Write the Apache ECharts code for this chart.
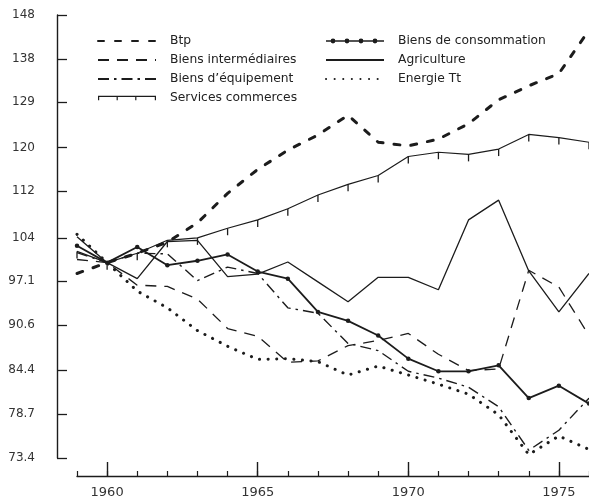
<!DOCTYPE html>
<html>
<head>
<meta charset="utf-8">
<script src="https://cdn.jsdelivr.net/npm/echarts@6/dist/echarts.min.js"></script>
<style>
  html, body { margin: 0; padding: 0; background: #fff; }
  #chart { width: 589px; height: 499px; }
</style>
</head>
<body>
<div id="chart"></div>
<script>
// Indices de prix par branche, base 100 en 1960 (échelle logarithmique)
const years = [1959, 1960, 1961, 1962, 1963, 1964, 1965, 1966, 1967, 1968, 1969, 1970, 1971, 1972, 1973, 1974, 1975, 1976];

const btp          = [98.3, 100, 101.5, 103.3, 106.5, 111.6, 115.9, 119.5, 122.4, 126.3, 121.0, 120.3, 121.6, 124.6, 129.4, 132.3, 134.9, 144.5];
const intermed     = [100.5, 100, 96.5, 96.3, 94.4, 90.1, 89.0, 85.4, 85.6, 87.7, 88.4, 89.4, 86.5, 84.3, 84.5, 98.8, 96.2, 89.1];
const equipement   = [101.6, 100, 101.5, 101.4, 97.2, 99.3, 98.3, 93.1, 92.3, 88.0, 87.0, 84.2, 83.3, 82.1, 79.6, 74.3, 76.7, 80.7];
const services     = [101.8, 100, 101.5, 103.6, 104.0, 105.6, 107.0, 108.9, 111.3, 113.2, 114.8, 118.3, 119.1, 118.7, 119.7, 122.5, 121.9, 121.0];
const consommation = [102.7, 100, 102.5, 99.6, 100.3, 101.3, 98.6, 97.5, 92.5, 91.2, 89.1, 85.9, 84.2, 84.2, 85.0, 80.7, 82.3, 80.0];
const agriculture  = [104.2, 100, 97.5, 103.4, 103.6, 97.8, 98.2, 100.1, 97.0, 94.0, 97.7, 97.7, 95.8, 107.0, 110.4, 98.7, 92.5, 98.3];
const energie      = [104.6, 100, 95.6, 93.1, 89.8, 87.6, 85.8, 85.9, 85.5, 83.7, 84.9, 83.7, 82.5, 81.2, 78.6, 73.8, 76.0, 74.4];

const yTickValues = [73.4, 78.7, 84.4, 90.6, 97.1, 104, 112, 120, 129, 138, 148];
const yTickLabels = ['73.4', '78.7', '84.4', '90.6', '97.1', '104', '112', '120', '129', '138', '148'];
const xLabelYears = [1960, 1965, 1970, 1975];

const INK = '#1c1c1c';
const FONT = 'DejaVu Sans';

const pairs = arr => years.map((y, i) => [y, arr[i]]);

function yLabel(v) {
  let best = 0;
  for (let i = 1; i < yTickValues.length; i++) {
    if (Math.abs(yTickValues[i] - v) < Math.abs(yTickValues[best] - v)) best = i;
  }
  return yTickLabels[best];
}

// Legend samples drawn as paths (58 px wide): a line with dots, a line with hanging ticks
const dot = (cx, r) => `M${cx - r} 3 a${r} ${r} 0 1 1 ${2 * r} 0 a${r} ${r} 0 1 1 ${-2 * r} 0 Z`;
const ICON_CONSO = 'path://M0 2.2 H58 V3.8 H0 Z ' + [7, 21, 35, 49].map(x => dot(x, 2.4)).join(' ');
const ICON_SERVICES = 'path://M0 0 H58 V1.2 H0 Z ' +
  [0, 18.6, 37.2, 56.8].map(x => `M${x} 0 H${x + 1.2} V4.5 H${x} Z`).join(' ');

const base = { type: 'line', xAxisIndex: 0, yAxisIndex: 0, silent: true, animation: false, itemStyle: { color: INK } };

const series = [
  Object.assign({}, base, {
    name: 'Btp', data: pairs(btp), symbol: 'none', z: 5,
    lineStyle: { color: INK, width: 3, type: [6, 11], cap: 'round' }
  }),
  Object.assign({}, base, {
    name: 'Biens intermédiaires', data: pairs(intermed), symbol: 'none',
    lineStyle: { color: INK, width: 1.3, type: [11, 8] }
  }),
  Object.assign({}, base, {
    name: 'Biens d\u2019équipement', data: pairs(equipement), symbol: 'none',
    lineStyle: { color: INK, width: 1.4, type: [11, 5, 2.5, 5] }
  }),
  Object.assign({}, base, {
    name: 'Services commerces', data: pairs(services),
    symbol: 'rect', symbolSize: [1.3, 7], symbolOffset: [0, 3.5],
    lineStyle: { color: INK, width: 1.2 }
  }),
  Object.assign({}, base, {
    name: 'Biens de consommation', data: pairs(consommation),
    symbol: 'circle', symbolSize: 4.5,
    itemStyle: { color: INK, borderWidth: 0 },
    lineStyle: { color: INK, width: 1.8 }
  }),
  Object.assign({}, base, {
    name: 'Agriculture', data: pairs(agriculture), symbol: 'none',
    lineStyle: { color: INK, width: 1.3 }
  }),
  Object.assign({}, base, {
    name: 'Energie Tt', data: pairs(energie), symbol: 'none',
    lineStyle: { color: INK, width: 3, type: [0.1, 8.5], cap: 'round' }
  })
];

// line-only legend entries: keep the series line style, hide the marker
const lineOnly = name => ({ name: name, itemStyle: { opacity: 0 } });

const legendCommon = {
  orient: 'vertical',
  padding: 0,
  itemWidth: 58,
  itemHeight: 12,
  itemGap: 7,
  selectedMode: false,
  textStyle: { fontFamily: FONT, fontSize: 12.3, color: '#222', padding: [0, 0, 0, 9] }
};

const option = {
  backgroundColor: '#fff',
  animation: false,
  grid: { left: 77, right: 0, top: 15, bottom: 39, containLabel: false },
  legend: [
    Object.assign({}, legendCommon, {
      left: 97, top: 35,
      data: [
        lineOnly('Btp'),
        lineOnly('Biens intermédiaires'),
        lineOnly('Biens d\u2019équipement'),
        { name: 'Services commerces', icon: ICON_SERVICES, itemStyle: { color: INK, borderWidth: 0 } }
      ]
    }),
    Object.assign({}, legendCommon, {
      left: 325, top: 35,
      data: [
        { name: 'Biens de consommation', icon: ICON_CONSO, itemStyle: { color: INK, borderWidth: 0 } },
        lineOnly('Agriculture'),
        lineOnly('Energie Tt')
      ]
    })
  ],
  xAxis: [
    {
      type: 'value', min: 1959, max: 1976, position: 'bottom', offset: 18,
      axisLine: { show: true, lineStyle: { color: INK, width: 1.4 } },
      axisTick: { show: true, inside: true, length: 14, customValues: xLabelYears, lineStyle: { color: INK, width: 1.4 } },
      axisLabel: {
        customValues: xLabelYears, margin: 10,
        fontFamily: FONT, fontSize: 13, color: '#333',
        formatter: v => String(v)
      },
      splitLine: { show: false }
    },
    {
      type: 'value', min: 1959, max: 1976, position: 'bottom', offset: 18,
      axisLine: { show: false },
      axisTick: { show: true, inside: true, length: 5, customValues: years, lineStyle: { color: INK, width: 1.2 } },
      axisLabel: { show: false },
      splitLine: { show: false }
    }
  ],
  yAxis: {
    type: 'log', logBase: 10, min: 73.4, max: 148, offset: 20,
    axisLine: { show: true, lineStyle: { color: INK, width: 1.4 } },
    axisTick: { show: true, inside: true, length: 10, customValues: yTickValues, lineStyle: { color: INK, width: 1.3 } },
    axisLabel: {
      customValues: yTickValues, margin: 22,
      fontFamily: FONT, fontSize: 12, color: '#333',
      formatter: v => yLabel(v)
    },
    splitLine: { show: false },
    minorSplitLine: { show: false }
  },
  series: series
};

const chart = echarts.init(document.getElementById('chart'), null, { renderer: 'canvas' });
chart.setOption(option);
</script>
</body>
</html>
